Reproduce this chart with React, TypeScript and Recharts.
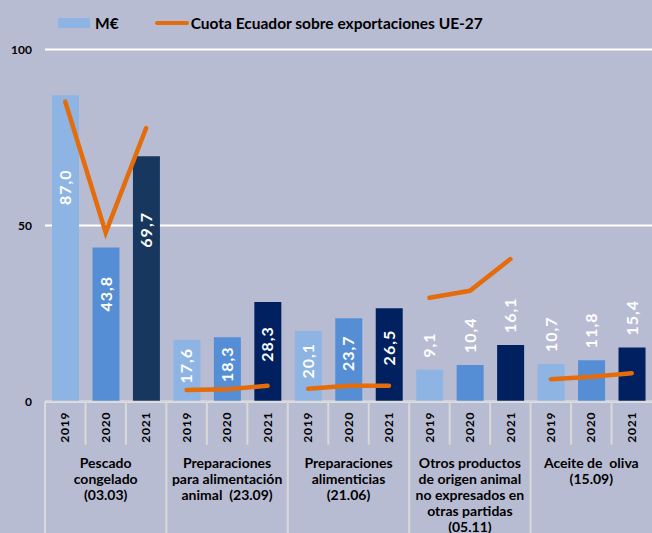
import { Bar, CartesianGrid, Cell, ComposedChart, LabelList, Line, XAxis, YAxis } from 'recharts';

const years = ['2019', '2020', '2021'];
const groupLabels = [
  ['Pescado', 'congelado', '(03.03)'],
  ['Preparaciones', 'para alimentación', 'animal  (23.09)'],
  ['Preparaciones', 'alimenticias', '(21.06)'],
  ['Otros productos', 'de origen animal', 'no expresados en', 'otras partidas', '(05.11)'],
  ['Aceite de  oliva', '(15.09)'],
];
// M€ per group, 2019-2021
const valueMEur = [87.0, 43.8, 69.7, 17.6, 18.3, 28.3, 20.1, 23.7, 26.5, 9.1, 10.4, 16.1, 10.7, 11.8, 15.4];
// Cuota Ecuador sobre exportaciones UE-27 (%)
const cuotaEcuador = [85.2, 48.0, 77.7, 3.3, 3.5, 4.5, 3.7, 4.5, 4.5, 29.5, 31.5, 40.5, 6.4, 7.1, 8.1];
const yTicks = [0, 50, 100];

const BG = '#b8bcd3';
const ORANGE = '#e46c0a';
const yearColors = ['#8eb4e3', '#558ed5', '#002060'];
const FONT = 'Lato, "DejaVu Sans", sans-serif';

const CHART_W = 652;
const CHART_H = 533;
const LEFT = 45;
const CAT_W = (CHART_W - LEFT) / valueMEur.length;

const data = valueMEur.map((v, i) => {
  const g = Math.floor(i / 3);
  return { year: years[i % 3], value: v, [`s${g}`]: cuotaEcuador[i] };
});

const barColor = (i: number) => (i === 2 ? '#17375e' : yearColors[i % 3]);
const fmt = (v: number) => v.toFixed(1).replace('.', ',');

function BarLabel(props: any) {
  const { x, y, width, height, value, index } = props;
  const g = Math.floor(index / 3);
  const cx = x + width / 2;
  let cy: number;
  let anchor: 'middle' | 'start' = 'middle';
  if (g === 0) cy = y + height * 0.3;
  else if (g < 3) cy = y + height * 0.42;
  else {
    cy = y - 12;
    anchor = 'start';
  }
  return (
    <text
      x={cx}
      y={cy}
      transform={`rotate(-90 ${cx} ${cy})`}
      textAnchor={anchor}
      dy="0.35em"
      fill="#fff"
      fontFamily={FONT}
      fontWeight={700}
      fontSize={16}
      letterSpacing={1}
    >
      {fmt(value)}
    </text>
  );
}

function XTick(props: any) {
  const { x, y, payload } = props;
  const i = payload.index;
  const left = x - CAT_W / 2;
  const ty = y + 10;
  return (
    <g>
      <line x1={left} x2={left} y1={y} y2={i % 3 === 0 ? y + 135 : y + 43} stroke="#d9d9d9" strokeWidth={2} />
      <text
        x={x}
        y={ty}
        transform={`rotate(-90 ${x} ${ty})`}
        textAnchor="end"
        dy="0.35em"
        fill="#000"
        fontFamily={FONT}
        fontWeight={700}
        fontSize={12}
        letterSpacing={0.8}
      >
        {payload.value}
      </text>
      {i % 3 === 1 &&
        groupLabels[Math.floor(i / 3)].map((line, k) => (
          <text
            key={k}
            x={x}
            y={y + 61 + k * 16.2}
            dy="0.35em"
            textAnchor="middle"
            fill="#000"
            fontFamily={FONT}
            fontWeight={700}
            fontSize={14}
            style={{ whiteSpace: 'pre' }}
          >
            {line}
          </text>
        ))}
    </g>
  );
}

function YTick(props: any) {
  const { x, y, payload } = props;
  return (
    <text x={x - 13} y={y} dy="0.35em" textAnchor="end" fill="#000" fontFamily={FONT} fontWeight={700} fontSize={12}>
      {payload.value}
    </text>
  );
}

export default function App() {
  return (
    <div style={{ position: 'absolute', left: 0, top: 0, width: CHART_W, height: CHART_H, background: BG, overflow: 'hidden' }}>
      <div
        style={{
          position: 'absolute',
          top: 14,
          left: 58,
          display: 'flex',
          alignItems: 'center',
          fontFamily: FONT,
          fontWeight: 700,
          fontSize: 15.5,
          color: '#000',
        }}
      >
        <span style={{ display: 'inline-block', width: 32, height: 10, background: yearColors[0], marginRight: 5 }} />
        <span>M€</span>
        <span style={{ display: 'inline-block', width: 34, height: 4, borderRadius: 2, background: ORANGE, marginLeft: 36, marginRight: 2 }} />
        <span>Cuota Ecuador sobre exportaciones UE-27</span>
      </div>
      <ComposedChart
        width={CHART_W}
        height={CHART_H}
        data={data}
        margin={{ top: 49.5, right: 0, bottom: 0, left: 0 }}
        barCategoryGap={0}
      >
        <CartesianGrid horizontal vertical={false} stroke="#ffffff" strokeWidth={2} />
        <XAxis
          dataKey="year"
          interval={0}
          height={131.3}
          tickSize={0}
          tickMargin={0}
          axisLine={{ stroke: '#d9d9d9', strokeWidth: 2 }}
          tickLine={false}
          tick={<XTick />}
        />
        <YAxis
          width={LEFT}
          domain={[0, 100]}
          ticks={yTicks}
          axisLine={false}
          tickLine={false}
          tickSize={0}
          tickMargin={0}
          tick={<YTick />}
        />
        <Bar dataKey="value" barSize={27} isAnimationActive={false}>
          {data.map((_, i) => (
            <Cell key={i} fill={barColor(i)} />
          ))}
          <LabelList dataKey="value" content={<BarLabel />} />
        </Bar>
        {groupLabels.map((_, g) => (
          <Line
            key={g}
            dataKey={`s${g}`}
            stroke={ORANGE}
            strokeWidth={4.5}
            strokeLinecap="round"
            dot={false}
            activeDot={false}
            isAnimationActive={false}
          />
        ))}
      </ComposedChart>
    </div>
  );
}
